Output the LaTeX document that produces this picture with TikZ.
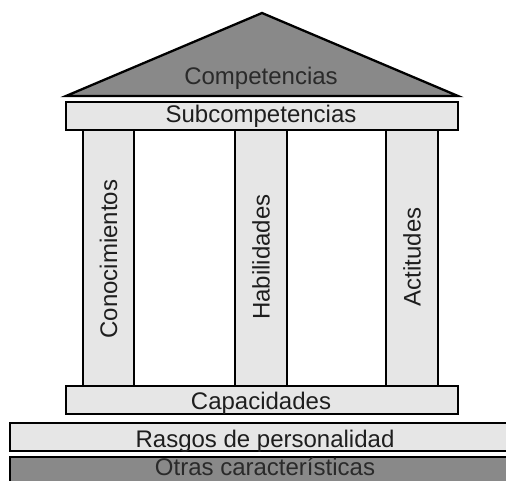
\documentclass[tikz,border=0pt]{standalone}
\usepackage{fontspec}
\setmainfont{Liberation Sans}
\definecolor{lightfill}{HTML}{E6E6E6}
\definecolor{darkfill}{HTML}{898989}
\definecolor{txt}{HTML}{1E1E1E}
\definecolor{dtxt}{HTML}{2A2A2A}
\begin{document}
\begin{tikzpicture}[x=1pt,y=-1pt,
  lbl/.style={font=\fontsize{24}{28}\selectfont, text=txt, inner sep=0pt, anchor=base},
  vlbl/.style={font=\fontsize{24}{28}\selectfont, text=txt, inner sep=0pt, rotate=90},
  slab/.style={draw=black, line width=2.6pt, fill=lightfill},
  pillar/.style={draw=black, line width=1.9pt, fill=lightfill},
  roof/.style={draw=black, line width=2.3pt, fill=darkfill, line join=miter}]
\useasboundingbox (0,0) rectangle (506,481);
% columns
\draw[pillar] (83,128) rectangle (134,387);
\draw[pillar] (235,128) rectangle (287,387);
\draw[pillar] (386,128) rectangle (438,387);
\node[vlbl] (con) at (108.5,259) {Conocimientos};
\node[vlbl] (hab) at (261,257) {Habilidades};
\node[vlbl] (act) at (412,257) {Actitudes};
% roof
\draw[roof] (66,96) -- (262,13) -- (458,96) -- cycle;
\node[lbl, text=dtxt] (comp) at (261,85) {Competencias};
% slabs
\draw[slab] (66,102) rectangle (458,130);
\node[lbl] (sub) at (261,123) {Subcompetencias};
\draw[slab] (66,386) rectangle (458,414);
\node[lbl] (cap) at (261,409) {Capacidades};
\draw[slab] (10,423) rectangle (520,451);
\node[lbl] (ras) at (265,447) {Rasgos de personalidad};
\draw[slab, fill=darkfill] (10,457) rectangle (520,495);
\node[lbl, text=dtxt] (otr) at (265,475) {Otras características};
\end{tikzpicture}
\end{document}
